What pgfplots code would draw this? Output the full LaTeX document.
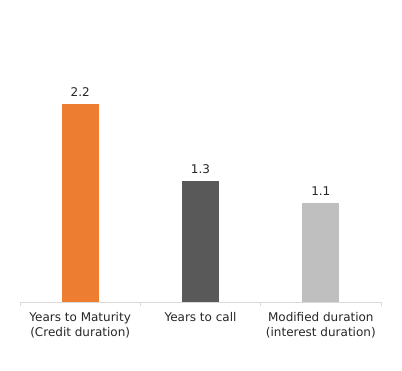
\documentclass[border=0pt]{standalone}
\usepackage{pgfplots}
\pgfplotsset{compat=1.18}
\usepackage{fontspec}
\setmainfont{DejaVu Sans}
\definecolor{cOrange}{HTML}{ED7D31}
\definecolor{cDark}{HTML}{595959}
\definecolor{cLight}{HTML}{BFBFBF}
\definecolor{cAxis}{HTML}{D9D9D9}
\definecolor{cText}{HTML}{262626}
\begin{document}
\begin{tikzpicture}
\useasboundingbox (0,0) rectangle (402pt,371pt);
\begin{axis}[
  at={(20pt,69pt)}, anchor=south west,
  scale only axis, width=361pt, height=225pt,
  xmin=-0.5, xmax=2.5, ymin=0, ymax=2.5,
  axis x line*=bottom, axis y line=none,
  x axis line style={cAxis, line width=0.8pt},
  xtick={0,1,2},
  xticklabels={{Years to Maturity\\(Credit duration)},{Years to call},{Modified duration\\(interest duration)}},
  major tick length=0pt,
  minor xtick={-0.5,0.5,1.5,2.5},
  minor tick length=4pt,
  tick align=outside,
  minor tick style={cAxis, line width=0.8pt},
  xticklabel style={align=center, font=\fontsize{12}{15}\selectfont, text=cText, anchor=north, yshift=-7pt},
  ybar, bar width=37pt, bar shift=0pt,
  nodes near coords,
  nodes near coords style={font=\fontsize{12}{14}\selectfont, text=cText, /pgf/number format/fixed, /pgf/number format/fixed zerofill, /pgf/number format/precision=1, /pgf/number format/assume math mode=true, yshift=4pt},
  enlarge y limits=false,
]
\addplot[fill=cOrange, draw=none] coordinates {(0,2.2)};
\addplot[fill=cDark, draw=none] coordinates {(1,1.34)};
\addplot[fill=cLight, draw=none] coordinates {(2,1.1)};
\end{axis}
\end{tikzpicture}
\end{document}
